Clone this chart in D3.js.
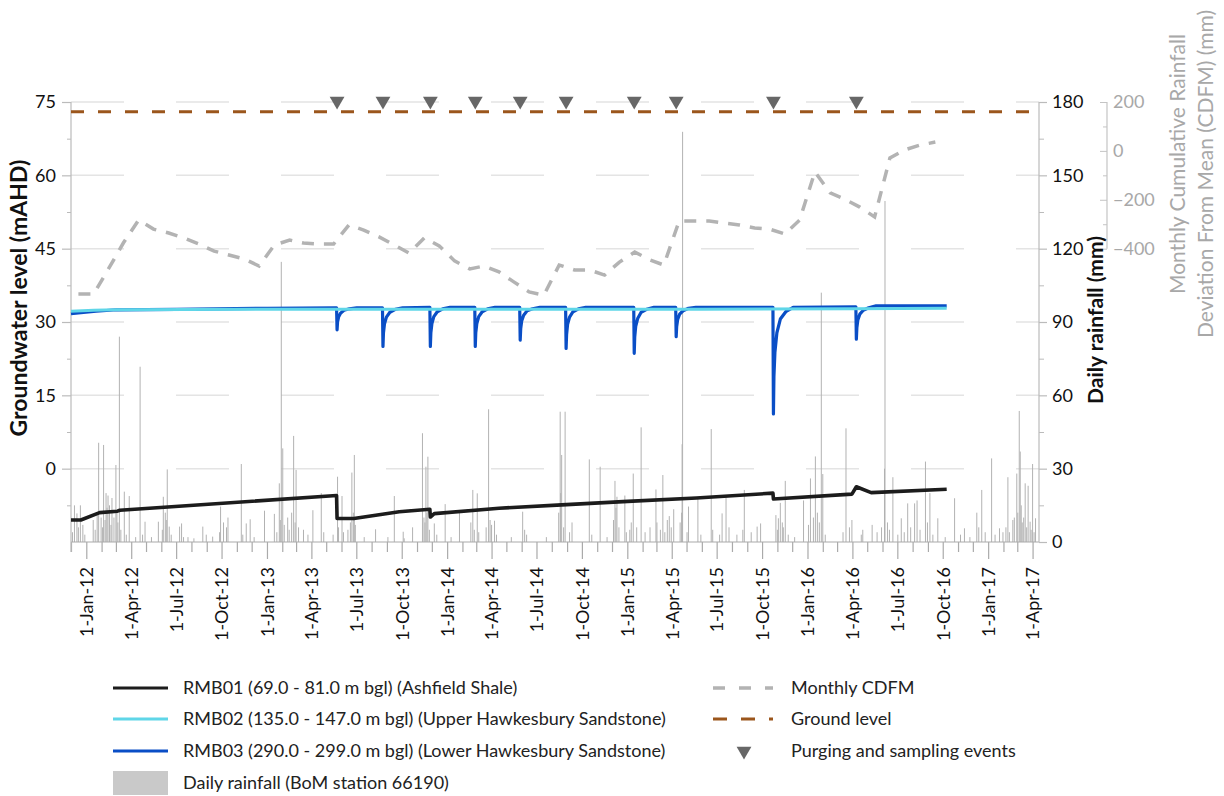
<!DOCTYPE html>
<html>
<head>
<meta charset="utf-8">
<script src="https://cdn.jsdelivr.net/npm/d3@7"></script>
<style>
body { margin: 0; background: #fff; }
text { font-family: Lato, "Open Sans", sans-serif; }
</style>
</head>
<body>
<script>
// groundwater hydrograph - RMB01/02/03 with daily rainfall + CDFM

// 1. Data
var groundLevel = 73;

var rmb01 = [
	["2011-11-30", -10.5], ["2011-12-20", -10.5], ["2012-01-27", -9.0], ["2012-03-03", -8.7], ["2012-03-08", -8.5],
	["2013-05-21", -5.5], ["2013-05-22", -10.2], ["2013-06-25", -10.2], ["2013-09-25", -8.8], ["2013-11-26", -8.3],
	["2013-11-27", -9.9], ["2013-12-05", -9.2], ["2014-04-15", -8.1], ["2014-08-20", -7.4], ["2015-01-01", -6.7],
	["2015-05-20", -6.0], ["2015-10-22", -5.0], ["2015-10-23", -6.2], ["2016-03-30", -5.2], ["2016-04-08", -3.7],
	["2016-05-08", -4.9], ["2016-10-08", -4.2]
];

var rmb02 = [
	["2011-11-30", 32.2], ["2012-01-15", 32.4], ["2012-03-01", 32.5], ["2013-01-01", 32.6], ["2014-06-01", 32.6],
	["2015-06-01", 32.6], ["2016-04-01", 32.7], ["2016-10-08", 32.8]
];

// drawdown at each purge then recovery
var rmb03 = [
	["2011-11-30", 31.7], ["2011-12-20", 31.9], ["2012-01-20", 32.2], ["2012-03-01", 32.5], ["2012-07-01", 32.6], ["2013-01-01", 32.8],
	["2013-05-21", 32.9], ["2013-05-22", 28.4], ["2013-05-23", 30.0], ["2013-05-25", 31.0], ["2013-05-29", 31.8], ["2013-06-05", 32.4], ["2013-06-16", 32.7], ["2013-07-01", 32.9],
	["2013-08-22", 32.9], ["2013-08-23", 25.0], ["2013-08-24", 27.8], ["2013-08-26", 29.6], ["2013-08-30", 31.0], ["2013-09-06", 32.0], ["2013-09-17", 32.6], ["2013-10-02", 32.9],
	["2013-11-26", 33.0], ["2013-11-27", 25.0], ["2013-11-28", 27.8], ["2013-11-30", 29.6], ["2013-12-04", 31.1], ["2013-12-11", 32.1], ["2013-12-22", 32.7], ["2014-01-06", 33.0],
	["2014-02-25", 33.0], ["2014-02-26", 25.0], ["2014-02-27", 27.8], ["2014-03-01", 29.6], ["2014-03-05", 31.1], ["2014-03-12", 32.1], ["2014-03-23", 32.7], ["2014-04-07", 33.0],
	["2014-05-27", 33.0], ["2014-05-28", 26.3], ["2014-05-29", 28.6], ["2014-05-31", 30.2], ["2014-06-04", 31.4], ["2014-06-11", 32.3], ["2014-06-22", 32.7], ["2014-07-07", 33.0],
	["2014-08-28", 33.0], ["2014-08-29", 24.6], ["2014-08-30", 27.5], ["2014-09-01", 29.5], ["2014-09-05", 31.0], ["2014-09-12", 32.1], ["2014-09-23", 32.7], ["2014-10-08", 33.0],
	["2015-01-13", 33.0], ["2015-01-14", 23.6], ["2015-01-15", 26.9], ["2015-01-17", 29.1], ["2015-01-21", 30.7], ["2015-01-28", 32.0], ["2015-02-08", 32.6], ["2015-02-23", 33.0],
	["2015-04-08", 33.0], ["2015-04-09", 27.0], ["2015-04-10", 29.1], ["2015-04-12", 30.5], ["2015-04-16", 31.6], ["2015-04-23", 32.3], ["2015-05-04", 32.8], ["2015-05-19", 33.0],
	["2015-10-22", 33.0], ["2015-10-23", 11.2], ["2015-10-24", 18.8], ["2015-10-26", 23.8], ["2015-10-30", 27.8], ["2015-11-06", 30.6], ["2015-11-17", 32.1], ["2015-12-02", 33.0],
	["2016-04-07", 33.1], ["2016-04-08", 26.5], ["2016-04-09", 28.8], ["2016-04-11", 30.4], ["2016-04-15", 31.6], ["2016-04-22", 32.4], ["2016-05-03", 32.9], ["2016-05-18", 33.3],
	["2016-10-08", 33.3]
];

var purgeDates = ["2013-05-22", "2013-08-23", "2013-11-27", "2014-02-26", "2014-05-28", "2014-08-29",
	"2015-01-14", "2015-04-09", "2015-10-23", "2016-04-08"];

// monthly CDFM (mm), plotted mid month
var cdfmMonths = ["2011-12-15", "2012-01-15", "2012-02-15", "2012-03-15", "2012-04-15", "2012-05-15", "2012-06-15", "2012-07-15",
	"2012-08-15", "2012-09-15", "2012-10-15", "2012-11-15", "2012-12-15", "2013-01-15", "2013-02-15", "2013-03-15", "2013-04-15",
	"2013-05-15", "2013-06-15", "2013-07-15", "2013-08-15", "2013-09-15", "2013-10-15", "2013-11-15", "2013-12-15", "2014-01-15",
	"2014-02-15", "2014-03-15", "2014-04-15", "2014-05-15", "2014-06-15", "2014-07-15", "2014-08-15", "2014-09-15", "2014-10-15",
	"2014-11-15", "2014-12-15", "2015-01-15", "2015-02-15", "2015-03-15", "2015-04-15", "2015-05-15", "2015-06-15", "2015-07-15",
	"2015-08-15", "2015-09-15", "2015-10-15", "2015-11-15", "2015-12-15", "2016-01-15", "2016-02-15", "2016-03-15", "2016-04-15",
	"2016-05-15", "2016-06-15", "2016-07-15", "2016-08-15", "2016-09-15"];
var cdfmValues = [-585, -585, -479, -377, -283, -320, -336, -356, -381, -410, -426, -442, -471,
	-385, -365, -377, -381, -381, -303, -324, -352, -385, -418, -356, -389,
	-450, -483, -471, -495, -536, -577, -590, -467, -487, -487, -508, -455,
	-414, -446, -467, -287, -287, -287, -295, -303, -315, -320, -340, -283,
	-86, -172, -197, -230, -270, -29, 4, 24, 36];

// daily rainfall (mm), BoM station 66190
var rainfall = [
	["2011-12-03", 4], ["2011-12-07", 15], ["2011-12-12", 11.7], ["2011-12-15", 6], ["2011-12-19", 15], ["2011-12-24", 7], ["2011-12-28", 3],
	["2012-01-14", 9], ["2012-01-18", 5], ["2012-01-22", 12], ["2012-01-25", 40.6], ["2012-01-30", 10], ["2012-02-02", 6], ["2012-02-04", 39.7],
	["2012-02-07", 9], ["2012-02-09", 20], ["2012-02-11", 14], ["2012-02-13", 19], ["2012-02-16", 15], ["2012-02-19", 7], ["2012-02-21", 18],
	["2012-02-25", 10], ["2012-02-29", 31.5], ["2012-03-02", 12], ["2012-03-04", 8], ["2012-03-07", 84], ["2012-03-10", 5], ["2012-03-17", 20.6],
	["2012-03-21", 3], ["2012-03-27", 18.8], ["2012-04-09", 2], ["2012-04-18", 71.7], ["2012-04-23", 3], ["2012-04-28", 8.3], ["2012-05-11", 2],
	["2012-05-25", 8.3], ["2012-06-02", 5], ["2012-06-04", 18.5], ["2012-06-08", 12], ["2012-06-10", 9], ["2012-06-12", 29.7], ["2012-06-16", 6.3],
	["2012-06-20", 3], ["2012-07-07", 6.3], ["2012-07-11", 7.6], ["2012-07-15", 2], ["2012-07-24", 2], ["2012-08-05", 1.5], ["2012-08-23", 6.3],
	["2012-08-30", 3], ["2012-09-12", 2.2], ["2012-09-26", 4], ["2012-09-28", 14.5], ["2012-10-04", 8], ["2012-10-10", 6], ["2012-10-13", 10],
	["2012-11-09", 31.9], ["2012-11-12", 3], ["2012-11-19", 7.6], ["2012-11-27", 9.3], ["2012-12-05", 2], ["2012-12-26", 12.8],
	["2013-01-15", 11.5], ["2013-01-20", 4], ["2013-01-25", 24], ["2013-01-27", 9], ["2013-01-29", 114.6], ["2013-02-01", 38.3], ["2013-02-04", 7],
	["2013-02-11", 10], ["2013-02-14", 5], ["2013-02-19", 12], ["2013-02-23", 43.4], ["2013-02-26", 8], ["2013-02-28", 29.5], ["2013-03-05", 6],
	["2013-03-15", 5], ["2013-03-24", 3], ["2013-04-03", 13], ["2013-04-20", 20], ["2013-04-25", 4], ["2013-05-14", 3], ["2013-05-23", 26.7],
	["2013-05-25", 6], ["2013-06-01", 18.8], ["2013-06-04", 4], ["2013-06-13", 5], ["2013-06-18", 8], ["2013-06-21", 28.4], ["2013-06-24", 12],
	["2013-06-26", 35.6], ["2013-06-28", 7], ["2013-07-16", 2], ["2013-08-08", 5.2], ["2013-09-02", 2], ["2013-09-15", 18.8], ["2013-10-03", 4.2],
	["2013-10-05", 1.5], ["2013-10-22", 6], ["2013-11-11", 44.5], ["2013-11-14", 10], ["2013-11-16", 8], ["2013-11-18", 30.8], ["2013-11-20", 12],
	["2013-11-22", 34.9], ["2013-11-25", 5], ["2013-12-05", 7.6], ["2013-12-10", 3], ["2013-12-27", 15.5],
	["2014-01-08", 2], ["2014-01-25", 13], ["2014-02-17", 8], ["2014-02-21", 21.3], ["2014-02-24", 5], ["2014-03-02", 19.9], ["2014-03-05", 4],
	["2014-03-20", 6], ["2014-03-25", 54.3], ["2014-03-28", 9], ["2014-03-31", 7], ["2014-04-06", 8.7], ["2014-04-10", 3], ["2014-05-10", 2],
	["2014-06-02", 12.4], ["2014-06-06", 5], ["2014-06-10", 3], ["2014-07-20", 2], ["2014-08-14", 12], ["2014-08-17", 53.3], ["2014-08-18", 20],
	["2014-08-20", 35.6], ["2014-08-24", 6], ["2014-08-27", 53.3], ["2014-09-05", 4], ["2014-09-10", 8], ["2014-10-15", 33.8], ["2014-10-20", 3],
	["2014-11-06", 30.8], ["2014-11-20", 2], ["2014-12-03", 9], ["2014-12-06", 25], ["2014-12-08", 14], ["2014-12-10", 18.5], ["2014-12-14", 6],
	["2014-12-26", 19], ["2014-12-29", 4],
	["2015-01-05", 5], ["2015-01-08", 8], ["2015-01-12", 28], ["2015-01-19", 6], ["2015-01-28", 46.9], ["2015-02-05", 4], ["2015-02-15", 6],
	["2015-02-27", 21.5], ["2015-03-01", 8], ["2015-03-08", 5], ["2015-03-13", 27.4], ["2015-03-17", 4], ["2015-03-22", 9], ["2015-03-26", 10.6],
	["2015-03-30", 6], ["2015-04-04", 13.4], ["2015-04-17", 8], ["2015-04-20", 12], ["2015-04-21", 40], ["2015-04-22", 167.8], ["2015-05-01", 4],
	["2015-05-04", 14.5], ["2015-05-23", 17.9], ["2015-05-29", 3], ["2015-06-19", 46.2], ["2015-06-22", 5], ["2015-07-06", 3], ["2015-07-11", 11.7],
	["2015-07-19", 19.2], ["2015-07-25", 6], ["2015-08-10", 3], ["2015-08-22", 5], ["2015-08-25", 21.3], ["2015-09-08", 4], ["2015-09-20", 6.3],
	["2015-09-27", 7.6], ["2015-10-28", 11], ["2015-10-31", 5], ["2015-11-02", 9.7], ["2015-11-06", 16], ["2015-11-10", 8], ["2015-11-12", 6],
	["2015-11-16", 25], ["2015-11-22", 3], ["2015-12-05", 2], ["2015-12-23", 17],
	["2016-01-02", 7], ["2016-01-06", 26], ["2016-01-12", 10], ["2016-01-16", 35], ["2016-01-20", 12], ["2016-01-24", 8], ["2016-01-28", 102],
	["2016-01-31", 27.8], ["2016-02-05", 3], ["2016-03-12", 4], ["2016-03-18", 46.5], ["2016-03-25", 6], ["2016-03-30", 9], ["2016-04-18", 3],
	["2016-04-21", 5], ["2016-05-10", 7], ["2016-05-20", 4], ["2016-05-29", 6], ["2016-06-04", 30], ["2016-06-05", 139.5], ["2016-06-10", 8],
	["2016-06-14", 5], ["2016-06-21", 26.5], ["2016-07-01", 3], ["2016-07-08", 9.7], ["2016-07-14", 4], ["2016-07-21", 15.8], ["2016-07-27", 6],
	["2016-08-04", 15.8], ["2016-08-09", 17], ["2016-08-15", 5], ["2016-08-26", 32.9], ["2016-08-30", 8], ["2016-09-04", 20], ["2016-09-10", 3],
	["2016-09-20", 9.7], ["2016-10-05", 2], ["2016-10-24", 17.9], ["2016-11-05", 3], ["2016-11-13", 5.6], ["2016-11-24", 2], ["2016-12-08", 12],
	["2016-12-12", 6], ["2016-12-18", 21.3], ["2016-12-25", 4],
	["2017-01-07", 34.2], ["2017-01-14", 3], ["2017-01-23", 5.6], ["2017-01-30", 4], ["2017-02-05", 6], ["2017-02-09", 26.5], ["2017-02-12", 4],
	["2017-02-19", 9], ["2017-02-22", 10], ["2017-02-27", 28], ["2017-03-01", 12], ["2017-03-04", 53.6], ["2017-03-06", 37], ["2017-03-08", 15],
	["2017-03-10", 8], ["2017-03-13", 10], ["2017-03-16", 24], ["2017-03-19", 6], ["2017-03-22", 23], ["2017-03-26", 8.3], ["2017-03-28", 5],
	["2017-03-31", 31.9], ["2017-04-03", 4], ["2017-04-06", 9.7]
];

// tick values
var levelTicks = [0, 15, 30, 45, 60, 75];
var levelMinor = [-7.5, 7.5, 22.5, 37.5, 52.5, 67.5];
var rainTicks = [0, 30, 60, 90, 120, 150, 180];
var rainMinor = [15, 45, 75, 105, 135, 165];
var cdfmTicks = [-400, -200, 0, 200];
var cdfmMinor = [-300, -100, 100];

// 2. Sizes + scales
var outWidth = 1224, outHeight = 796;
var plotL = 71, plotR = 1039, plotT = 102, plotB = 542;
var parse = d3.timeParse("%Y-%m-%d");

var xScale = d3.scaleTime()
	.domain([parse("2011-11-30"), parse("2017-04-13")])
	.range([plotL, plotR]);
var yScale = d3.scaleLinear().domain([-15, 75]).range([plotB, plotT]);
var rScale = d3.scaleLinear().domain([0, 180]).range([plotB, plotT]);
var cScale = d3.scaleLinear().domain([-1600, 200]).range([plotB, plotT]);

var svg = d3.select("body").append("svg")
	.attr("width", outWidth)
	.attr("height", outHeight);

// 3. gridlines (light long dashes)
svg.append("g").selectAll("line")
	.data(levelTicks)
	.enter().append("line")
	.attr("x1", plotL).attr("x2", plotR)
	.attr("y1", function(d) { return yScale(d); })
	.attr("y2", function(d) { return yScale(d); })
	.attr("stroke", "#e4e4e4")
	.attr("stroke-width", 1.5)
	.attr("stroke-dasharray", "53,52");

// 4. rainfall bars
svg.append("g").selectAll("line")
	.data(rainfall)
	.enter().append("line")
	.attr("x1", function(d) { return xScale(parse(d[0])); })
	.attr("x2", function(d) { return xScale(parse(d[0])); })
	.attr("y1", rScale(0))
	.attr("y2", function(d) { return rScale(d[1]); })
	.attr("stroke", "#b2b2b2")
	.attr("stroke-width", 1);

// 5. axes
// x axis: monthly minor ticks, quarterly labels
var months = d3.timeMonth.range(new Date(2011, 11, 1), new Date(2017, 3, 2));
var quarters = months.filter(function(d) { return d.getMonth() % 3 == 0; });

svg.append("line")
	.attr("x1", plotL).attr("x2", plotR)
	.attr("y1", plotB).attr("y2", plotB)
	.attr("stroke", "#aaa").attr("stroke-width", 1.2);

svg.append("g").selectAll("line")
	.data(months)
	.enter().append("line")
	.attr("x1", function(d) { return xScale(d); })
	.attr("x2", function(d) { return xScale(d); })
	.attr("y1", plotB)
	.attr("y2", function(d) { return d.getMonth() % 3 == 0 ? plotB + 17 : plotB + 10; })
	.attr("stroke", "#aaa").attr("stroke-width", 1.2);

var fmt = d3.timeFormat("%-d-%b-%y");
svg.append("g").selectAll("text")
	.data(quarters)
	.enter().append("text")
	.attr("transform", function(d) { return "translate(" + xScale(d) + ",567) rotate(-90)"; })
	.attr("dy", "0.35em")
	.style("text-anchor", "end")
	.style("font-size", "18px")
	.attr("fill", "#111")
	.text(fmt);

// left axis
var yAxis = d3.axisLeft(yScale).tickValues(levelTicks).tickSize(9).tickPadding(6);
var gy = svg.append("g").attr("transform", "translate(" + plotL + ",0)").call(yAxis);
gy.select(".domain").attr("stroke", "#bbb").attr("stroke-width", 1.2).attr("d", "M0," + plotT + "V" + (plotB + 10));
gy.selectAll(".tick line").attr("stroke", "#bbb").attr("stroke-width", 1.2);
gy.selectAll("text").style("font-size", "18px").style("font-family", "Lato").attr("fill", "#111");
svg.append("g").attr("transform", "translate(" + plotL + ",0)")
	.call(d3.axisLeft(yScale).tickValues(levelMinor).tickSize(4).tickFormat(""))
	.call(function(g) { g.select(".domain").remove(); g.selectAll("line").attr("stroke", "#bbb"); });

// right axis (daily rainfall)
var rAxis = d3.axisRight(rScale).tickValues(rainTicks).tickSize(8).tickPadding(5);
var gr = svg.append("g").attr("transform", "translate(" + plotR + ",0)").call(rAxis);
gr.select(".domain").attr("stroke", "#bbb").attr("stroke-width", 1.2).attr("d", "M0," + plotT + "V" + plotB);
gr.selectAll(".tick line").attr("stroke", "#bbb").attr("stroke-width", 1.2);
gr.selectAll("text").style("font-size", "18px").style("font-family", "Lato").attr("fill", "#111");
svg.append("g").attr("transform", "translate(" + plotR + ",0)")
	.call(d3.axisRight(rScale).tickValues(rainMinor).tickSize(5).tickFormat(""))
	.call(function(g) { g.select(".domain").remove(); g.selectAll("line").attr("stroke", "#bbb"); });

// second right axis (CDFM) - only drawn over -400..200
var cx = 1107;
var cAxis = d3.axisLeft(cScale).tickValues(cdfmTicks).tickSize(7).tickFormat(d3.format("d"));
var gc = svg.append("g").attr("transform", "translate(" + cx + ",0)").call(cAxis);
gc.select(".domain").attr("stroke", "#c4c4c4").attr("stroke-width", 1.2).attr("d", "M0," + cScale(200) + "V" + cScale(-400));
gc.selectAll(".tick line").attr("stroke", "#c4c4c4");
gc.selectAll("text")
	.attr("x", 6)
	.style("text-anchor", "start")
	.style("font-size", "18px").style("font-family", "Lato")
	.attr("fill", "#a8a8a8");
svg.append("g").attr("transform", "translate(" + cx + ",0)")
	.call(d3.axisLeft(cScale).tickValues(cdfmMinor).tickSize(4).tickFormat(""))
	.call(function(g) { g.select(".domain").remove(); g.selectAll("line").attr("stroke", "#c4c4c4"); });

// axis titles
svg.append("text")
	.attr("transform", "translate(27,298) rotate(-90)")
	.style("text-anchor", "middle")
	.style("font-size", "23px").style("font-weight", "bold")
	.attr("fill", "#111")
	.text("Groundwater level (mAHD)");
svg.append("text")
	.attr("transform", "translate(1103,320) rotate(-90)")
	.style("text-anchor", "middle")
	.style("font-size", "21px").style("font-weight", "bold")
	.attr("fill", "#111")
	.text("Daily rainfall (mm)");
svg.append("text")
	.attr("transform", "translate(1185,164) rotate(-90)")
	.style("text-anchor", "middle")
	.style("font-size", "21px")
	.attr("fill", "#a8a8a8")
	.text("Monthly Cumulative Rainfall");
svg.append("text")
	.attr("transform", "translate(1213,174) rotate(-90)")
	.style("text-anchor", "middle")
	.style("font-size", "21px")
	.attr("fill", "#a8a8a8")
	.text("Deviation From Mean (CDFM) (mm)");

// 6. lines
var lvlLine = d3.line()
	.x(function(d) { return xScale(parse(d[0])); })
	.y(function(d) { return yScale(d[1]); });

var cdfm = cdfmMonths.map(function(m, i) { return [m, cdfmValues[i]]; });
svg.append("path")
	.attr("d", d3.line()
		.x(function(d) { return xScale(parse(d[0])); })
		.y(function(d) { return cScale(d[1]); })(cdfm))
	.attr("fill", "none")
	.attr("stroke", "#b3b3b3")
	.attr("stroke-width", 3.5)
	.attr("stroke-dasharray", "12,10");

// ground level
svg.append("line")
	.attr("x1", plotL).attr("x2", xScale(parse("2017-04-01")))
	.attr("y1", yScale(groundLevel)).attr("y2", yScale(groundLevel))
	.attr("stroke", "#9b561c")
	.attr("stroke-width", 3)
	.attr("stroke-dasharray", "13,14");

svg.append("path").attr("d", lvlLine(rmb01))
	.attr("fill", "none").attr("stroke", "#1c1c1c").attr("stroke-width", 3.6)
	.attr("stroke-linejoin", "round");
svg.append("path").attr("d", lvlLine(rmb03))
	.attr("fill", "none").attr("stroke", "#0a4ec6").attr("stroke-width", 3.2)
	.attr("stroke-linejoin", "round");
svg.append("path").attr("d", lvlLine(rmb02))
	.attr("fill", "none").attr("stroke", "#5fd6e8").attr("stroke-width", 3)
	.attr("stroke-linejoin", "round");

// purging events (down triangles along the top)
var tri = d3.symbol().type(d3.symbolTriangle).size(95);
svg.append("g").selectAll("path")
	.data(purgeDates)
	.enter().append("path")
	.attr("d", tri)
	.attr("transform", function(d) { return "translate(" + xScale(parse(d)) + "," + (plotT - 1) + ") rotate(180)"; })
	.attr("fill", "#676767");

// 7. legend
var legL = [
	{label: "RMB01 (69.0 - 81.0 m bgl) (Ashfield Shale)", color: "#1c1c1c"},
	{label: "RMB02 (135.0 - 147.0 m bgl) (Upper Hawkesbury Sandstone)", color: "#5fd6e8"},
	{label: "RMB03 (290.0 - 299.0 m bgl) (Lower Hawkesbury Sandstone)", color: "#0a4ec6"}
];
var legRows = [688, 719, 751, 783];
var legend = svg.append("g");
legL.forEach(function(d, i) {
	legend.append("line")
		.attr("x1", 113).attr("x2", 168)
		.attr("y1", legRows[i]).attr("y2", legRows[i])
		.attr("stroke", d.color).attr("stroke-width", 3);
	legend.append("text")
		.attr("x", 183).attr("y", legRows[i]).attr("dy", "0.35em")
		.style("font-size", "18px").attr("fill", "#222")
		.text(d.label);
});
legend.append("rect")
	.attr("x", 113).attr("y", 771).attr("width", 55).attr("height", 24)
	.attr("fill", "#c9c9c9");
legend.append("text")
	.attr("x", 183).attr("y", legRows[3]).attr("dy", "0.35em")
	.style("font-size", "18px").attr("fill", "#222")
	.text("Daily rainfall (BoM station 66190)");

legend.append("line")
	.attr("x1", 713).attr("x2", 773).attr("y1", legRows[0]).attr("y2", legRows[0])
	.attr("stroke", "#b3b3b3").attr("stroke-width", 3.5).attr("stroke-dasharray", "12,14");
legend.append("line")
	.attr("x1", 713).attr("x2", 773).attr("y1", legRows[1]).attr("y2", legRows[1])
	.attr("stroke", "#9b561c").attr("stroke-width", 3).attr("stroke-dasharray", "14,14");
legend.append("path")
	.attr("d", tri)
	.attr("transform", "translate(744," + legRows[2] + ") rotate(180)")
	.attr("fill", "#676767");
["Monthly CDFM", "Ground level", "Purging and sampling events"].forEach(function(t, i) {
	legend.append("text")
		.attr("x", 791).attr("y", legRows[i]).attr("dy", "0.35em")
		.style("font-size", "18px").attr("fill", "#222")
		.text(t);
});
</script>
</body>
</html>
